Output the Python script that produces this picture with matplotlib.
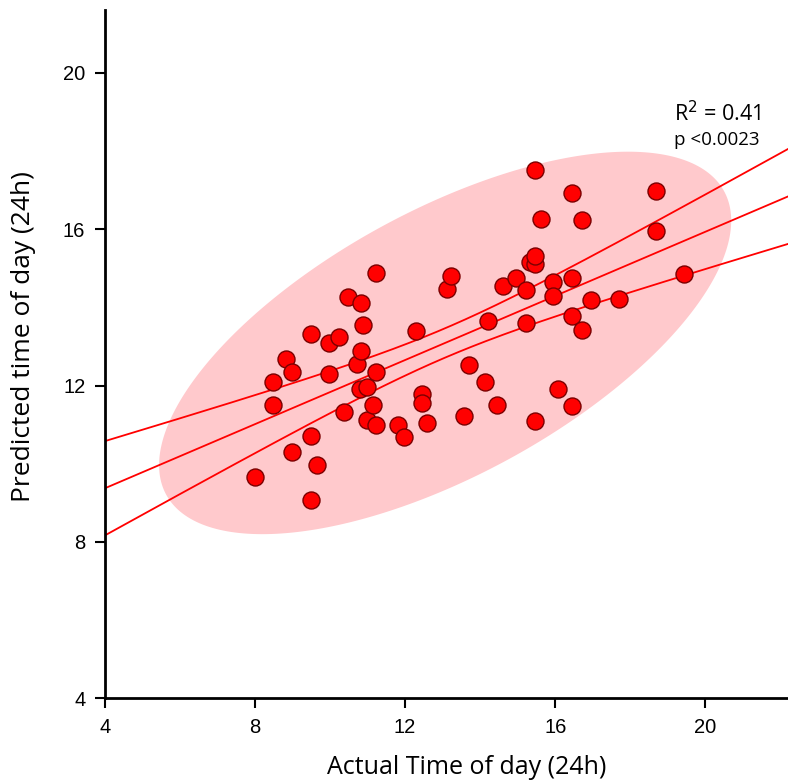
import matplotlib.pyplot as plt
import numpy as np

# actual vs predicted time of day (24h)
actual = [7.99, 8.49, 8.49, 8.83, 8.99, 8.99, 9.48, 9.48, 9.48, 9.64,
          9.98, 9.98, 10.23, 10.37, 10.49, 10.73, 10.83, 10.88, 10.83, 10.80,
          10.98, 10.98, 11.14, 11.23, 11.23, 11.23, 11.82, 11.97, 12.29, 12.45,
          12.45, 12.57, 13.11, 13.22, 13.57, 13.71, 14.12, 14.21, 14.46, 14.62,
          14.96, 15.21, 15.21, 15.33, 15.47, 15.47, 15.47, 15.47, 15.62, 15.95,
          15.95, 16.06, 16.45, 16.45, 16.45, 16.45, 16.70, 16.70, 16.95, 17.70,
          18.69, 18.69, 19.44]
predicted = [9.67, 12.09, 11.51, 12.69, 12.34, 10.29, 13.31, 10.70, 9.08, 9.96,
             13.08, 12.30, 13.25, 11.32, 14.26, 12.54, 14.10, 13.55, 12.89, 11.90,
             11.96, 11.11, 11.49, 14.89, 12.35, 11.00, 11.00, 10.68, 13.40, 11.79,
             11.55, 11.05, 14.48, 14.79, 11.21, 12.52, 12.08, 13.65, 11.49, 14.55,
             14.75, 14.44, 13.59, 15.16, 15.10, 15.30, 17.50, 11.08, 16.26, 14.65,
             14.29, 11.90, 16.92, 14.75, 13.78, 11.47, 16.23, 13.42, 14.19, 14.21,
             16.98, 15.95, 14.85]
ticks = [4, 8, 12, 16, 20]

x = np.array(actual)
y = np.array(predicted)
n = len(x)

fig = plt.figure(figsize=(7.88, 7.82), dpi=100)
ax = fig.add_axes([0.133, 0.107, 0.867, 0.880])

# 95% density ellipse
cov = np.cov(x, y)
vals, vecs = np.linalg.eigh(cov)
k = np.sqrt(5.991) * 1.04
t = np.linspace(0, 2 * np.pi, 300)
circ = np.vstack([np.cos(t), np.sin(t)]) * (k * np.sqrt(vals))[:, None]
ell = vecs @ circ
ax.fill(x.mean() + ell[0], y.mean() + ell[1], color='#ffc9cc', lw=0, zorder=1)

# linear fit and confidence band
b, a = np.polyfit(x, y, 1)
xs = np.linspace(4, 22.2, 200)
yhat = a + b * xs
resid = y - (a + b * x)
s = np.sqrt(np.sum(resid ** 2) / (n - 2))
sxx = np.sum((x - x.mean()) ** 2)
se = s * np.sqrt(1 / n + (xs - x.mean()) ** 2 / sxx)
ax.plot(xs, yhat, color='#ff0000', lw=1.3, zorder=2)
ax.plot(xs, yhat + 2.0 * se, color='#ff0000', lw=1.3, zorder=2)
ax.plot(xs, yhat - 2.0 * se, color='#ff0000', lw=1.3, zorder=2)

ax.scatter(x, y, s=150, color='#ff0000', edgecolor='#7a0000', linewidth=1.0, zorder=3)

ax.set_xlim(4, 22.2)
ax.set_ylim(4, 21.6)
ax.set_xticks(ticks, labels=[str(v) for v in ticks], fontfamily='Liberation Sans', fontsize=14.5)
ax.set_yticks(ticks, labels=[str(v) for v in ticks], fontfamily='Liberation Sans', fontsize=14.5)
ax.spines['top'].set_visible(False)
ax.spines['right'].set_visible(False)
ax.spines['left'].set_linewidth(2)
ax.spines['bottom'].set_linewidth(2)
ax.tick_params(direction='out', length=7, width=1.5, pad=7)

ax.set_xlabel('Actual Time of day (24h)', fontsize=18, family='Open Sans')
ax.set_ylabel('Predicted time of day (24h)', fontsize=19, family='Open Sans')
ax.xaxis.set_label_coords(0.53, -0.083)
ax.yaxis.set_label_coords(-0.100, 0.526)

ax.text(19.15, 18.95, r'R$^2$ = 0.41', fontsize=15.5, family='Open Sans', ha='left', va='center')
ax.text(19.15, 18.27, 'p <0.0023', fontsize=13.5, family='Open Sans', ha='left', va='center')

fig.savefig('out.png', dpi=100)
